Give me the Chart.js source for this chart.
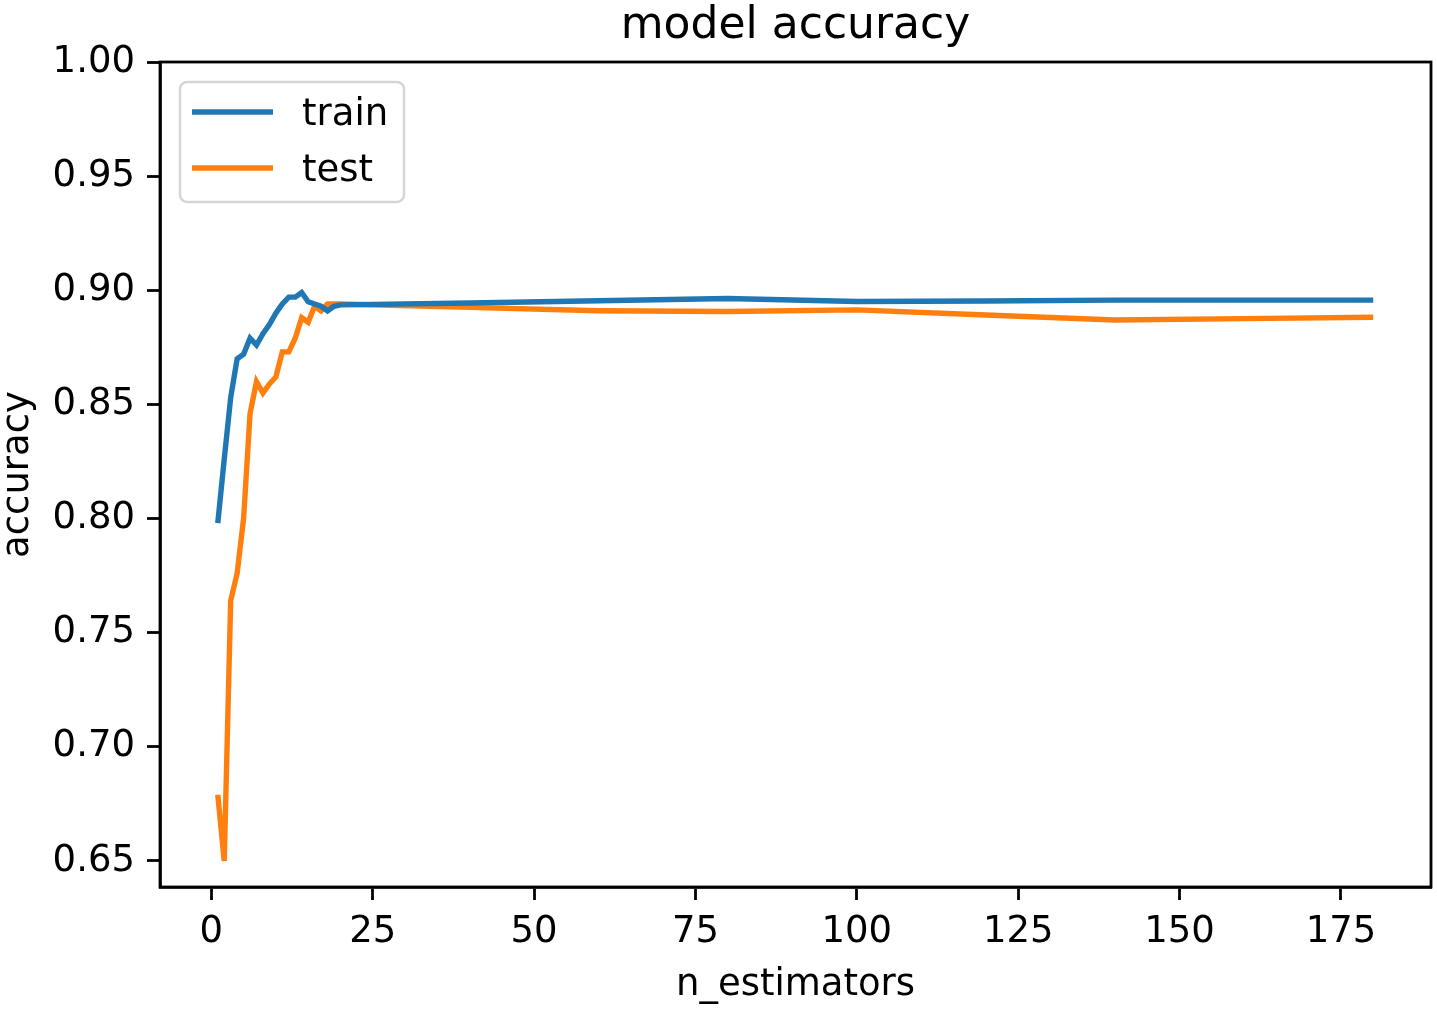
<!DOCTYPE html>
<html>
<head>
<meta charset="utf-8">
<script src="https://cdn.jsdelivr.net/npm/chart.js@4.4.0/dist/chart.umd.min.js"></script>
<style>
  body { margin: 0; background: #ffffff; }
  canvas { display: block; }
</style>
</head>
<body>
<canvas id="accChart" width="1437" height="1009"></canvas>
<script>
// n_estimators tried, and the accuracy
var nEstimators = [1, 2, 3, 4, 5, 6, 7, 8, 9, 10, 11, 12, 13, 14, 15, 16, 17, 18, 19,
  20, 40, 60, 80, 100, 120, 140, 160, 180];
var trainAcc = [0.798, 0.826, 0.853, 0.870, 0.872, 0.879, 0.876, 0.881, 0.885, 0.890,
  0.894, 0.897, 0.897, 0.899, 0.895, 0.894, 0.893, 0.891, 0.893,
  0.8936, 0.8944, 0.8954, 0.8964, 0.8951, 0.8953, 0.8957, 0.8957, 0.8957];
var testAcc = [0.679, 0.650, 0.764, 0.776, 0.800, 0.846, 0.860, 0.855, 0.859, 0.862,
  0.873, 0.873, 0.879, 0.888, 0.886, 0.893, 0.891, 0.894, 0.894,
  0.894, 0.8925, 0.8910, 0.8907, 0.8914, 0.8892, 0.8870, 0.8876, 0.8882];
var xTicks = [0, 25, 50, 75, 100, 125, 150, 175];
var yTicks = [0.65, 0.70, 0.75, 0.80, 0.85, 0.90, 0.95, 1.00];

var FONT = "'DejaVu Sans', sans-serif";
var BLUE = '#1f77b4';
var ORANGE = '#ff7f0e';

function toPoints(xs, ys) {
  let out = [];
  for (let i = 0; i < xs.length; i++) {
    out.push({ x: xs[i], y: ys[i] });
  }
  return out;
}

// box round the plot + the legend in the upper left corner
const framePlugin = {
  id: 'frame',
  afterDraw(chart) {
    const ctx = chart.ctx;
    const a = chart.chartArea;
    ctx.save();
    ctx.strokeStyle = '#000000';
    ctx.lineWidth = 2.8;
    ctx.strokeRect(a.left, a.top, a.right - a.left, a.bottom - a.top);

    // legend
    ctx.beginPath();
    ctx.roundRect(180, 82, 224, 120, 7);
    ctx.fillStyle = 'rgba(255,255,255,0.8)';
    ctx.fill();
    ctx.strokeStyle = '#d5d5d5';
    ctx.lineWidth = 2.5;
    ctx.stroke();

    const rows = [112, 168];
    chart.data.datasets.forEach(function(ds, i) {
      ctx.beginPath();
      ctx.moveTo(192, rows[i]);
      ctx.lineTo(273, rows[i]);
      ctx.strokeStyle = ds.borderColor;
      ctx.lineWidth = 5.4;
      ctx.stroke();
      ctx.fillStyle = '#000000';
      ctx.font = '37px ' + FONT;
      ctx.textBaseline = 'alphabetic';
      ctx.textAlign = 'left';
      ctx.fillText(ds.label, 302, rows[i] + 13);
    });
    ctx.restore();
  }
};

new Chart(document.getElementById('accChart'), {
  type: 'line',
  data: {
    datasets: [{
      label: 'train',
      data: toPoints(nEstimators, trainAcc),
      borderColor: BLUE,
      borderWidth: 5.4,
      pointRadius: 0,
      tension: 0,
      fill: false
    }, {
      label: 'test',
      data: toPoints(nEstimators, testAcc),
      borderColor: ORANGE,
      borderWidth: 5.4,
      pointRadius: 0,
      tension: 0,
      fill: false
    }]
  },
  options: {
    responsive: false,
    animation: false,
    layout: { padding: { top: 0, right: 6, bottom: 0, left: 0 } },
    plugins: {
      legend: { display: false },
      tooltip: { enabled: false },
      title: {
        display: true,
        fullSize: false,
        text: 'model accuracy',
        color: '#000000',
        font: { family: FONT, size: 44, weight: 'normal', lineHeight: 1.2 },
        padding: { top: 0, bottom: 9.2 }
      }
    },
    scales: {
      x: {
        type: 'linear',
        min: -7.95,
        max: 188.95,
        afterBuildTicks: function(scale) {
          scale.ticks = xTicks.map(function(v) { return { value: v }; });
        },
        afterFit: function(scale) { scale.height = 122; },
        ticks: {
          color: '#000000',
          font: { family: FONT, size: 37 },
          padding: 10,
          autoSkip: false,
          maxRotation: 0,
          callback: function(v) { return String(v); }
        },
        grid: { drawOnChartArea: false, tickLength: 13, tickWidth: 2.8, color: '#000000' },
        border: { display: true, color: '#000000', width: 2.8 },
        title: {
          display: true,
          text: 'n_estimators',
          color: '#000000',
          font: { family: FONT, size: 37 },
          padding: { top: 0, bottom: 1 }
        }
      },
      y: {
        type: 'linear',
        min: 0.6386,
        max: 1.0,
        afterBuildTicks: function(scale) {
          scale.ticks = yTicks.map(function(v) { return { value: v }; });
        },
        afterFit: function(scale) { scale.width = 160; },
        ticks: {
          color: '#000000',
          font: { family: FONT, size: 37 },
          padding: 12,
          autoSkip: false,
          callback: function(v) { return v.toFixed(2); }
        },
        grid: { drawOnChartArea: false, tickLength: 13, tickWidth: 2.8, color: '#000000' },
        border: { display: true, color: '#000000', width: 2.8 },
        title: {
          display: true,
          text: 'accuracy',
          color: '#000000',
          font: { family: FONT, size: 37 },
          padding: { top: -4, bottom: 0 }
        }
      }
    }
  },
  plugins: [framePlugin]
});
</script>
</body>
</html>
